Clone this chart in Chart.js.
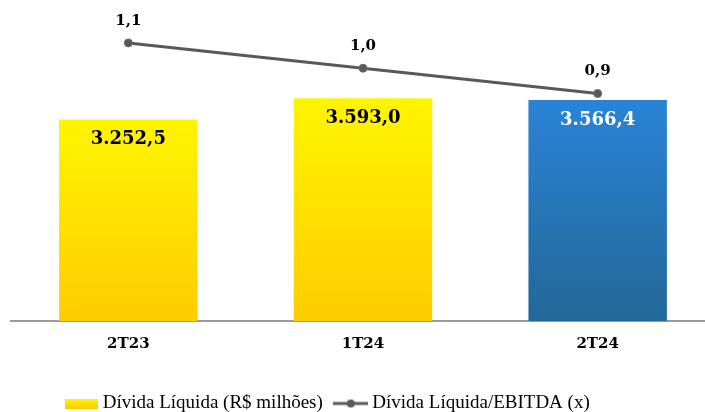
<!DOCTYPE html>
<html>
<head>
<meta charset="utf-8">
<script src="https://cdn.jsdelivr.net/npm/chart.js@4.4.1/dist/chart.umd.min.js"></script>
<style>
  html, body { margin: 0; padding: 0; background: #fff; overflow: hidden; }
  #wrap { position: relative; width: 720px; height: 412px; }
</style>
</head>
<body>
<div id="wrap"><canvas id="chart"></canvas></div>
<script>
const categories = ["2T23", "1T24", "2T24"];
const dividaLiquida = [3252.5, 3593.0, 3566.4];
const dividaEbitda = [1.1, 1.0, 0.9];
const barLabel = "Dívida Líquida (R$ milhões)";
const lineLabel = "Dívida Líquida/EBITDA (x)";

function fmt(v, dec) {
  let parts = v.toFixed(dec).split(".");
  let int = parts[0].replace(/\B(?=(\d{3})+(?!\d))/g, ".");
  return int + "," + parts[1];
}

function barColor(context) {
  let chart = context.chart;
  let area = chart.chartArea;
  if (!area) return "#FFD700";
  let yScale = chart.scales.y;
  let top = yScale.getPixelForValue(context.raw);
  let bottom = yScale.getPixelForValue(0);
  let g = chart.ctx.createLinearGradient(0, top, 0, bottom);
  if (context.dataIndex == 2) {
    g.addColorStop(0, "#2A83D6");
    g.addColorStop(1, "#226898");
  } else {
    g.addColorStop(0, "#FFF500");
    g.addColorStop(1, "#FFCC00");
  }
  return g;
}

// legend symbols as small canvases
function legendBox() {
  let c = document.createElement("canvas");
  c.width = 33; c.height = 10;
  let x = c.getContext("2d");
  let g = x.createLinearGradient(0, 0, 0, 10);
  g.addColorStop(0, "#FFF500");
  g.addColorStop(1, "#FFCC00");
  x.fillStyle = g;
  x.fillRect(0, 0, 33, 10);
  return c;
}
function legendLine() {
  let c = document.createElement("canvas");
  c.width = 35; c.height = 10;
  let x = c.getContext("2d");
  x.strokeStyle = "#595959";
  x.lineWidth = 3;
  x.beginPath(); x.moveTo(0, 5); x.lineTo(35, 5); x.stroke();
  x.fillStyle = "#595959";
  x.beginPath(); x.arc(17.5, 5, 4, 0, Math.PI * 2); x.fill();
  return c;
}

const valueLabels = {
  id: "valueLabels",
  afterDatasetsDraw(chart) {
    let ctx = chart.ctx;
    ctx.save();
    ctx.textAlign = "center";
    ctx.textBaseline = "middle";
    // dataset 1 = bars
    chart.getDatasetMeta(1).data.forEach((bar, i) => {
      ctx.font = "bold 18px 'DejaVu Serif'";
      ctx.fillStyle = i == 2 ? "#ffffff" : "#000000";
      ctx.fillText(fmt(dividaLiquida[i], 1), bar.x, bar.y + 20);
    });
    // dataset 0 = line
    chart.getDatasetMeta(0).data.forEach((pt, i) => {
      ctx.font = "bold 15px 'DejaVu Serif'";
      ctx.fillStyle = "#000000";
      ctx.fillText(fmt(dividaEbitda[i], 1), pt.x, pt.y - 22);
    });
    ctx.restore();
  }
};

const shiftLegend = {
  id: "shiftLegend",
  afterLayout(chart) {
    let lg = chart.legend;
    lg.left -= 36;
    lg.right -= 36;
    lg.top += 11;
    lg.bottom += 11;
  }
};

new Chart("chart", {
  type: "bar",
  data: {
    labels: categories,
    datasets: [
      {
        type: "line",
        label: lineLabel,
        data: dividaEbitda,
        yAxisID: "y1",
        borderColor: "#595959",
        borderWidth: 3,
        pointRadius: 4,
        pointBackgroundColor: "#595959",
        pointBorderColor: "#6b6b6b",
        pointBorderWidth: 1,
        tension: 0,
        order: 0
      },
      {
        type: "bar",
        label: barLabel,
        data: dividaLiquida,
        yAxisID: "y",
        backgroundColor: barColor,
        barPercentage: 0.59,
        categoryPercentage: 1,
        order: 1
      }
    ]
  },
  options: {
    responsive: true,
    maintainAspectRatio: false,
    animation: false,
    layout: { padding: { top: 5, left: 11, right: 0, bottom: 0 } },
    scales: {
      x: {
        grid: { display: false, drawTicks: false },
        border: { display: true, color: "#9a9a9a", width: 2 },
        ticks: {
          color: "#000",
          padding: 14,
          font: { family: "DejaVu Serif", size: 15, weight: "bold" }
        }
      },
      y: { display: false, min: 0, max: 5100 },
      y1: { display: false, min: 0, max: 1.25 }
    },
    plugins: {
      tooltip: { enabled: false },
      legend: {
        position: "bottom",
        labels: {
          usePointStyle: true,
          pointStyleWidth: 24,
          padding: 16,
          color: "#000",
          font: { family: "Liberation Serif", size: 19 },
          generateLabels(chart) {
            return [
              { text: barLabel, pointStyle: legendBox(), datasetIndex: 1, fontColor: "#000", lineWidth: 0 },
              { text: lineLabel, pointStyle: legendLine(), datasetIndex: 0, fontColor: "#000", lineWidth: 0 }
            ];
          }
        }
      }
    }
  },
  plugins: [valueLabels, shiftLegend]
});
</script>
</body>
</html>
